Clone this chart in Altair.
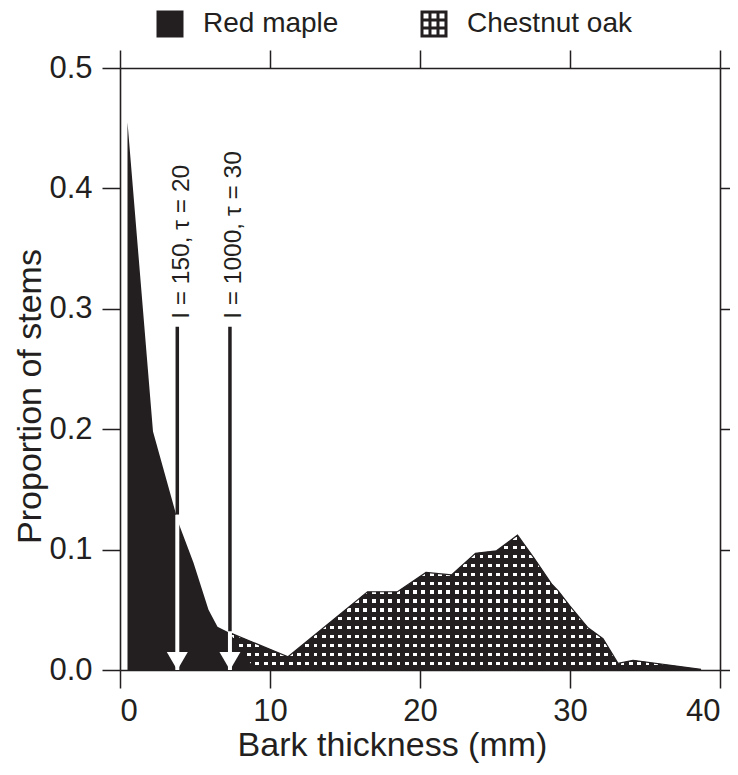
import altair as alt
import pandas as pd

# ---------------- data ----------------
species = ["Red maple", "Chestnut oak"]

maple_x = [0.5, 2.2, 3.9, 4.9, 5.9, 6.5, 7.3, 8.8, 9.6]
maple_y = [0.455, 0.198, 0.122, 0.089, 0.050, 0.036, 0.031, 0.004, 0.0]

oak_x = [7.3, 11.2, 16.5, 18.5, 20.4, 22.1, 23.7, 25.1, 26.5, 27.6,
         28.8, 29.2, 30.0, 31.2, 32.2, 33.2, 34.2, 38.7]
oak_y = [0.031, 0.011, 0.065, 0.065, 0.081, 0.079, 0.097, 0.099, 0.112, 0.093,
         0.071, 0.066, 0.053, 0.035, 0.026, 0.0055, 0.008, 0.0006]

arrow_x = [3.82, 7.33]
arrow_top = [0.285, 0.285]
arrow_cross = [0.129, 0.032]
arrow_base = [0.0, 0.0]
arrow_labels = ["I = 150, \u03c4 = 20", "I = 1000, \u03c4 = 30"]

x_ticks = [0, 10, 20, 30, 40]
y_ticks = [0.0, 0.1, 0.2, 0.3, 0.4, 0.5]
x_domain = [0, 40]
y_domain = [0, 0.5]

x_title = "Bark thickness (mm)"
y_title = "Proportion of stems"

# ---------------- styling ----------------
INK = "#231f20"
FONT = "Liberation Sans, Arial, Helvetica, sans-serif"
PLOT_W, PLOT_H = 600, 602

maple = pd.DataFrame({"x": maple_x, "y": maple_y, "species": species[0]})
oak = pd.DataFrame({"x": oak_x, "y": oak_y, "species": species[1]})
both = pd.concat([maple, oak], ignore_index=True)
arrows = pd.DataFrame({"x": arrow_x, "top": arrow_top, "cross": arrow_cross,
                       "base": arrow_base, "label": arrow_labels})

xscale = alt.Scale(domain=x_domain, nice=False, zero=False)
yscale = alt.Scale(domain=y_domain, nice=False, zero=False)


def X(field="x", **kw):
    return alt.X(f"{field}:Q", scale=xscale, title=x_title, **kw)


def Y(field="y", **kw):
    return alt.Y(f"{field}:Q", scale=yscale, title=y_title, **kw)


# ----- pattern fill for chestnut oak (two crossing stripe gradients) -----
def stripes(intervals, on, off):
    stops = [{"offset": 0, "color": off}]
    for a, b in sorted(intervals):
        a = max(0.0, min(1.0, a))
        b = max(0.0, min(1.0, b))
        if b <= a:
            continue
        stops += [{"offset": round(a, 5), "color": off},
                  {"offset": round(a, 5), "color": on},
                  {"offset": round(b, 5), "color": on},
                  {"offset": round(b, 5), "color": off}]
    stops.append({"offset": 1, "color": off})
    return stops


box_h = max(oak_y) / (y_domain[1] - y_domain[0]) * PLOT_H
box_w = (max(oak_x) - min(oak_x)) / (x_domain[1] - x_domain[0]) * PLOT_W
row_period, row_band, row_first = 8.9, 3.4, 6.7
col_period, col_band, col_first = 8.3, 3.8, 3.0

rows = []
d = row_first
while d - row_band / 2 < box_h:
    rows.append(((box_h - (d + row_band / 2)) / box_h, (box_h - (d - row_band / 2)) / box_h))
    d += row_period
cols = []
c = col_first
while c - col_band / 2 < box_w:
    cols.append(((c - col_band / 2) / box_w, (c + col_band / 2) / box_w))
    c += col_period

row_grad = {"gradient": "linear", "x1": 0, "y1": 0, "x2": 0, "y2": 1,
            "stops": stripes(rows, "#ffffff", INK)}
col_grad = {"gradient": "linear", "x1": 0, "y1": 0, "x2": 1, "y2": 0,
            "stops": stripes(cols, "rgba(35,31,32,0)", INK)}

# legend icon shapes
b, w = 0.222, 0.370
holes = ""
for i in range(3):
    for j in range(3):
        x0 = -1 + b + i * (w + b)
        y0 = -1 + b + j * (w + b)
        x1, y1 = x0 + w, y0 + w
        holes += f"M{x0:.3f},{y0:.3f}L{x0:.3f},{y1:.3f}L{x1:.3f},{y1:.3f}L{x1:.3f},{y0:.3f}Z"
grid_icon = "M-1,-1L1,-1L1,1L-1,1Z" + holes
arrow_head = "M-1,-1.71L1,-1.71L0,0Z"

legend = alt.Legend(orient="none", legendX=36, legendY=-58, direction="horizontal",
                    title=None, labelFontSize=28, labelFont=FONT, labelColor=INK,
                    labelLimit=400, symbolSize=729, symbolStrokeWidth=0, labelOffset=19,
                    columnPadding=81, padding=0, symbolOpacity=1)

legend_layer = alt.Chart(both).mark_point(filled=True, opacity=0).encode(
    x=X(axis=alt.Axis(orient="bottom", values=x_ticks, labelPadding=8,
                      titleX=272, titleY=85, titleAlign="center",
                      titleBaseline="alphabetic")),
    y=Y(axis=alt.Axis(orient="left", values=y_ticks, format=".1f", labelPadding=10,
                      titleX=-80, titleY=328, titleAlign="center",
                      titleBaseline="alphabetic")),
    color=alt.Color("species:N", scale=alt.Scale(domain=species, range=[INK, INK]),
                    legend=legend),
    shape=alt.Shape("species:N", scale=alt.Scale(domain=species, range=["square", grid_icon]),
                    legend=legend),
)

oak_rows = alt.Chart(oak).mark_area(fill=row_grad, strokeWidth=0).encode(x=X(), y=Y())
oak_cols = alt.Chart(oak).mark_area(fill=col_grad, stroke=INK, strokeWidth=1.2).encode(
    x=X(), y=Y())
maple_area = alt.Chart(maple).mark_area(color=INK).encode(x=X(), y=Y())

rule_black = alt.Chart(arrows).mark_rule(color=INK, strokeWidth=3.5).encode(
    x=X(), y=Y("cross"), y2="top:Q")
rule_white = alt.Chart(arrows).mark_rule(color="white", strokeWidth=4).encode(
    x=X(), y=Y("base"), y2="cross:Q")
heads = alt.Chart(arrows).mark_point(shape=arrow_head, size=441, filled=True,
                                     fill="white", opacity=1, strokeWidth=0).encode(
    x=X(), y=Y("base"))
labels = alt.Chart(arrows).mark_text(angle=270, align="left", baseline="middle",
                                     dx=8, dy=4.5, font=FONT, fontSize=24.5,
                                     color=INK).encode(x=X(), y=Y("top"), text="label:N")

main = alt.layer(legend_layer, oak_rows, oak_cols, maple_area,
                 rule_black, rule_white, heads, labels)

frame = alt.Chart(oak).mark_line(strokeOpacity=0).encode(
    x=alt.X("x:Q", scale=xscale,
            axis=alt.Axis(orient="top", values=x_ticks, labels=False, title=None)),
    y=alt.Y("y:Q", scale=yscale,
            axis=alt.Axis(orient="right", values=y_ticks, labels=False, title=None)),
)

chart = alt.layer(main, frame).resolve_axis(x="independent", y="independent").properties(
    width=PLOT_W, height=PLOT_H,
    autosize=alt.AutoSizeParams(type="none"),
    padding={"left": 112, "top": 60, "right": 10, "bottom": 94},
    background="white",
).configure_axis(
    domainColor=INK, domainWidth=1.6, tickColor=INK, tickWidth=1.5, tickSize=18,
    labelFont=FONT, labelFontSize=31, labelColor=INK,
    titleFont=FONT, titleFontSize=34, titleFontWeight="normal", titleColor=INK,
    grid=False,
).configure_view(stroke=None)

chart.save("out.html", embed_options={"renderer": "svg", "actions": False})
